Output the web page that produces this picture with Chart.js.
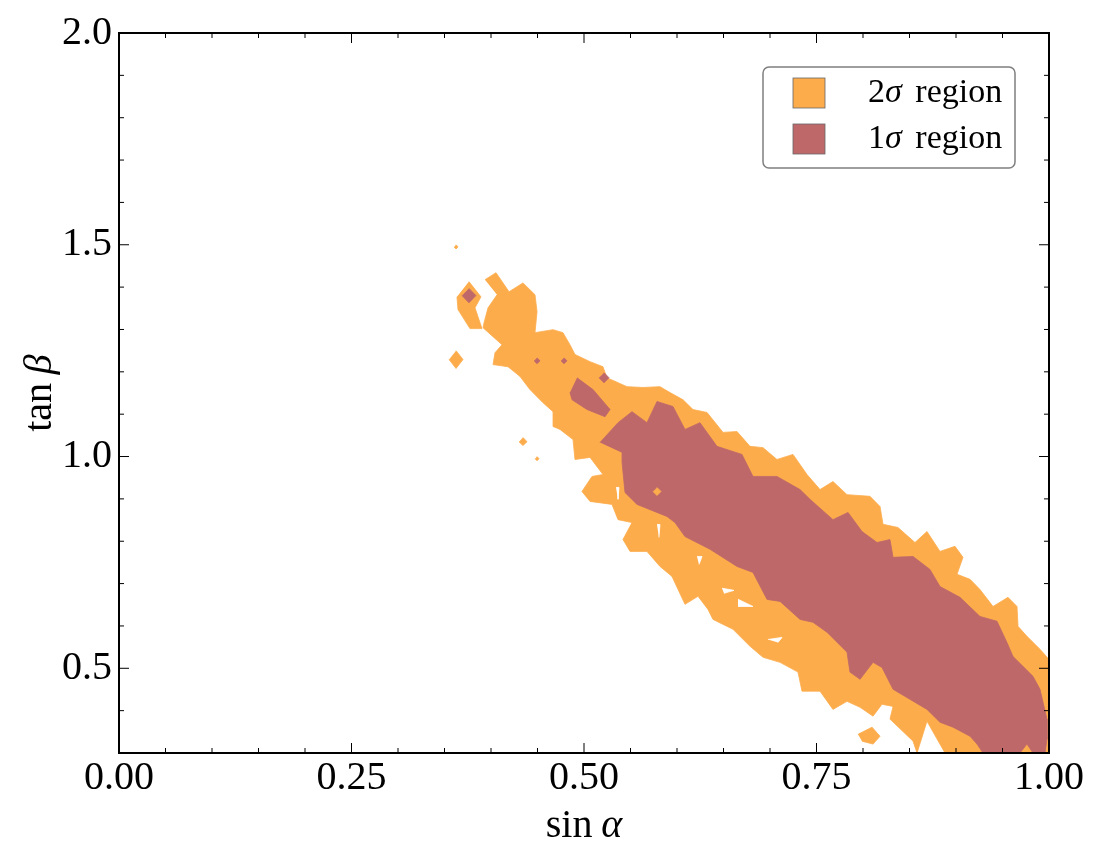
<!DOCTYPE html>
<html>
<head>
<meta charset="utf-8">
<script src="https://cdn.jsdelivr.net/npm/chart.js@4.4.1/dist/chart.umd.min.js"></script>
<style>
  html, body { margin: 0; padding: 0; background: #fff; }
</style>
</head>
<body>
<canvas id="myCanvas" width="1098" height="862"></canvas>
<script>
// axis ticks
const xMajorTicks = [0, 0.25, 0.5, 0.75, 1.0]
const xMinorTicks = [0.05, 0.1, 0.15, 0.2, 0.3, 0.35, 0.4, 0.45, 0.55, 0.6, 0.65, 0.7, 0.8, 0.85, 0.9, 0.95]
const yMajorTicks = [0.5, 1.0, 1.5, 2.0]
const yMinorTicks = [0.3, 0.4, 0.6, 0.7, 0.8, 0.9, 1.1, 1.2, 1.3, 1.4, 1.6, 1.7, 1.8, 1.9]
const xTickLabels = ["0.00", "0.25", "0.50", "0.75", "1.00"]
const yTickLabels = ["0.5", "1.0", "1.5", "2.0"]

const xTitle = "sin α"
const yTitle = "tan β"
const legendLabels = ["2σ region", "1σ region"]

// 2 sigma contour (outer, orange) : [sin alpha, tan beta]
const sigma2Main = [
  [0.3935, 1.4175], [0.4054, 1.434], [0.4194, 1.389], [0.4344, 1.410], [0.4473, 1.382],
  [0.4495, 1.342], [0.4473, 1.2925], [0.4667, 1.2995], [0.4774, 1.2925], [0.4849, 1.264],
  [0.4903, 1.241], [0.5065, 1.224], [0.5204, 1.212], [0.5247, 1.186], [0.5462, 1.165],
  [0.5634, 1.163], [0.5817, 1.165], [0.5925, 1.151], [0.6065, 1.134], [0.6172, 1.111],
  [0.6323, 1.104], [0.6495, 1.057], [0.6645, 1.059], [0.6785, 1.024], [0.6925, 1.021],
  [0.7075, 0.993], [0.7247, 1.005], [0.7398, 0.9575], [0.7538, 0.922], [0.7677, 0.941],
  [0.7828, 0.910], [0.8075, 0.906], [0.8183, 0.882], [0.8215, 0.840], [0.8376, 0.8325],
  [0.8559, 0.797], [0.8688, 0.823], [0.8828, 0.776], [0.8989, 0.788], [0.9075, 0.762],
  [0.9011, 0.722], [0.9151, 0.710], [0.9258, 0.686], [0.9398, 0.646], [0.9559, 0.6675],
  [0.9656, 0.646], [0.9667, 0.599], [0.9763, 0.5755], [0.9903, 0.545], [1.0, 0.521],
  [1.0, 0.3], [0.8882, 0.3], [0.8688, 0.375], [0.8581, 0.3], [0.8538, 0.328],
  [0.8290, 0.380], [0.8323, 0.410], [0.8204, 0.415], [0.8108, 0.387], [0.7968, 0.408],
  [0.7828, 0.422], [0.7677, 0.403], [0.7538, 0.446], [0.7344, 0.446], [0.7301, 0.491],
  [0.7108, 0.514], [0.6925, 0.526], [0.6785, 0.552], [0.6602, 0.592], [0.6387, 0.6155],
  [0.6333, 0.639], [0.6226, 0.670], [0.6086, 0.651], [0.5946, 0.717], [0.5817, 0.7405],
  [0.5677, 0.776], [0.5495, 0.776], [0.5419, 0.804], [0.5516, 0.844], [0.5366, 0.851],
  [0.5301, 0.887], [0.5065, 0.894], [0.4978, 0.9175], [0.5086, 0.953], [0.5204, 0.9575],
  [0.5065, 0.998], [0.4903, 0.993], [0.4882, 1.040], [0.4742, 1.064], [0.4667, 1.071],
  [0.4667, 1.106], [0.4559, 1.127], [0.4419, 1.158], [0.4312, 1.189], [0.4183, 1.212],
  [0.4022, 1.217], [0.4043, 1.245], [0.4118, 1.264], [0.3914, 1.304], [0.3925, 1.316],
  [0.3968, 1.351], [0.4065, 1.382]
]
const sigma2Left = [
  [0.3763, 1.413], [0.3892, 1.377], [0.3828, 1.351], [0.3903, 1.302],
  [0.3774, 1.302], [0.3645, 1.347], [0.3634, 1.377]
]
const sigma2Dot1 = [[0.3624, 1.500], [0.3645, 1.495], [0.3624, 1.490], [0.3603, 1.495]]
const sigma2Dot2 = [[0.3624, 1.250], [0.3699, 1.229], [0.3624, 1.208], [0.3549, 1.229]]
const sigma2Dot3 = [[0.4344, 1.045], [0.4387, 1.035], [0.4344, 1.026], [0.4301, 1.035]]
const sigma2Dot4 = [[0.4495, 1.000], [0.4516, 0.995], [0.4495, 0.990], [0.4474, 0.995]]
const sigma2Island = [[0.7946, 0.344], [0.8097, 0.361], [0.8183, 0.3395], [0.8108, 0.321], [0.7989, 0.328]]
const sigma2InCore = [[0.5785, 0.927], [0.5828, 0.9175], [0.5785, 0.908], [0.5742, 0.9175]]

// gaps inside the 2 sigma band
const gap1 = [[0.5785, 0.8396], [0.5817, 0.8396], [0.5806, 0.809]]
const gap2 = [[0.6215, 0.764], [0.6269, 0.764], [0.6237, 0.7453]]
const gap3 = [[0.6484, 0.689], [0.6613, 0.684], [0.6505, 0.677]]
const gap4 = [[0.6656, 0.663], [0.6817, 0.646], [0.6656, 0.646]]
const gap5 = [[0.6978, 0.568], [0.7129, 0.573], [0.7086, 0.561]]
const gap6 = [[0.5344, 0.927], [0.5376, 0.927], [0.5366, 0.899]]

// 1 sigma contour (inner, red)
const sigma1Main = [
  [0.5172, 1.033], [0.5366, 1.080], [0.5516, 1.106], [0.5677, 1.080], [0.5785, 1.130],
  [0.5957, 1.118], [0.6086, 1.064], [0.6247, 1.080], [0.6430, 1.024], [0.6699, 1.005],
  [0.6817, 0.953], [0.7075, 0.953], [0.7323, 0.922], [0.7430, 0.899], [0.7677, 0.851],
  [0.7839, 0.868], [0.7989, 0.823], [0.8151, 0.797], [0.8290, 0.804], [0.8323, 0.762],
  [0.8538, 0.764], [0.8720, 0.7335], [0.8828, 0.693], [0.9043, 0.6675], [0.9258, 0.6225],
  [0.9441, 0.611], [0.9548, 0.561], [0.9613, 0.528], [0.9828, 0.481], [0.9903, 0.4505],
  [0.9978, 0.380], [0.9978, 0.3325], [0.9957, 0.3], [0.9828, 0.3], [0.9763, 0.321],
  [0.9688, 0.3], [0.9290, 0.3], [0.9226, 0.321], [0.9151, 0.3395], [0.8968, 0.361],
  [0.8828, 0.3725], [0.8688, 0.403], [0.8323, 0.4505], [0.8204, 0.502], [0.8108, 0.514],
  [0.7968, 0.474], [0.7860, 0.491], [0.7828, 0.538], [0.7613, 0.585], [0.7462, 0.6085],
  [0.7323, 0.6155], [0.7108, 0.658], [0.6968, 0.6627], [0.6817, 0.7264], [0.6645, 0.7405],
  [0.6355, 0.781], [0.6086, 0.811], [0.5978, 0.844], [0.5892, 0.8585], [0.5570, 0.887],
  [0.5441, 0.915], [0.5409, 0.986], [0.5409, 1.009]
]
const sigma1Small = [
  [0.4925, 1.186], [0.5097, 1.158], [0.5280, 1.111], [0.5226, 1.094],
  [0.5032, 1.111], [0.4871, 1.134], [0.4849, 1.151]
]
const sigma1Dot1 = [[0.3763, 1.397], [0.3838, 1.380], [0.3763, 1.363], [0.3688, 1.380]]
const sigma1Dot2 = [[0.4495, 1.233], [0.4527, 1.226], [0.4495, 1.219], [0.4463, 1.226]]
const sigma1Dot3 = [[0.4785, 1.233], [0.4817, 1.226], [0.4785, 1.219], [0.4753, 1.226]]
const sigma1Dot4 = [[0.5215, 1.198], [0.5269, 1.186], [0.5215, 1.174], [0.5161, 1.186]]

const orange = "#fdac4c"
const red = "#be686a"
const fontFamily = "'Liberation Serif', 'DejaVu Serif', serif"

function shape(points, color, order) {
  return {
    data: points.map(p => ({ x: p[0], y: p[1] })),
    showLine: true,
    fill: "shape",
    backgroundColor: color,
    borderColor: color,
    borderWidth: 0.8,
    pointRadius: 0,
    tension: 0,
    order: order,
  }
}

const datasets = [
  shape(sigma2Main, orange, 6),
  shape(sigma2Left, orange, 6),
  shape(sigma2Dot1, orange, 6),
  shape(sigma2Dot2, orange, 6),
  shape(sigma2Dot3, orange, 6),
  shape(sigma2Dot4, orange, 6),
  shape(sigma2Island, orange, 6),
  ...[gap1, gap2, gap3, gap4, gap5, gap6].map(g => shape(g, "#ffffff", 5)),
  shape(sigma1Main, red, 4),
  shape(sigma1Small, red, 4),
  shape(sigma1Dot1, red, 4),
  shape(sigma1Dot2, red, 4),
  shape(sigma1Dot3, red, 4),
  shape(sigma1Dot4, red, 4),
  shape(sigma2InCore, orange, 3),
]

// draws text with greek letters in italic (math style)
function drawMath(ctx, text, x, y, size, align, space) {
  const parts = []
  for (const ch of text) {
    const greek = /[\u0370-\u03ff]/.test(ch)
    const font = (greek ? "italic " : "") + size + "px " + fontFamily
    ctx.font = font
    const w = ch === " " ? size * space : ctx.measureText(ch).width
    parts.push({ ch, font, w })
  }
  const total = parts.reduce((s, p) => s + p.w, 0)
  let cx = align === "center" ? x - total / 2 : align === "right" ? x - total : x
  ctx.textAlign = "left"
  ctx.textBaseline = "middle"
  for (const p of parts) {
    if (p.ch !== " ") {
      ctx.font = p.font
      ctx.fillText(p.ch, cx, y)
    }
    cx += p.w
  }
}

const framePlugin = {
  id: "frame",
  afterDatasetsDraw(chart) {
    const { ctx, chartArea: a, scales } = chart
    ctx.save()
    ctx.strokeStyle = "#000"
    ctx.lineWidth = 1
    const tick = (vals, len) => {
      for (const v of vals) {
        const px = scales.x.getPixelForValue(v)
        ctx.beginPath()
        ctx.moveTo(px, a.bottom); ctx.lineTo(px, a.bottom - len)
        ctx.moveTo(px, a.top); ctx.lineTo(px, a.top + len)
        ctx.stroke()
      }
    }
    const ytick = (vals, len) => {
      for (const v of vals) {
        const py = scales.y.getPixelForValue(v)
        ctx.beginPath()
        ctx.moveTo(a.left, py); ctx.lineTo(a.left + len, py)
        ctx.moveTo(a.right, py); ctx.lineTo(a.right - len, py)
        ctx.stroke()
      }
    }
    tick(xMajorTicks, 10)
    tick(xMinorTicks, 5)
    ytick(yMajorTicks, 10)
    ytick(yMinorTicks, 5)
    ctx.lineWidth = 2
    ctx.strokeRect(a.left, a.top, a.right - a.left, a.bottom - a.top)
    ctx.restore()
  },
  afterDraw(chart) {
    const { ctx, chartArea: a } = chart
    ctx.save()
    ctx.fillStyle = "#000"
    drawMath(ctx, xTitle, (a.left + a.right) / 2, 826, 40, "center", 0.22)
    ctx.translate(40, (a.top + a.bottom) / 2)
    ctx.rotate(-Math.PI / 2)
    drawMath(ctx, yTitle, 0, 0, 40, "center", 0.22)
    ctx.restore()

    // legend
    ctx.save()
    const bx = 763, by = 67, bw = 252, bh = 101, r = 6
    ctx.beginPath()
    ctx.roundRect(bx, by, bw, bh, r)
    ctx.fillStyle = "rgba(255,255,255,0.8)"
    ctx.fill()
    ctx.strokeStyle = "#7f7f7f"
    ctx.lineWidth = 1.5
    ctx.stroke()
    const colors = [orange, red]
    legendLabels.forEach((label, i) => {
      const y = 93 + i * 46
      ctx.fillStyle = colors[i]
      ctx.fillRect(793, y - 15, 32, 30)
      ctx.strokeStyle = "#666"
      ctx.lineWidth = 0.8
      ctx.strokeRect(793, y - 15, 32, 30)
      ctx.fillStyle = "#000"
      drawMath(ctx, label, 868, y, 34, "left", 0.4)
    })
    ctx.restore()
  },
}

const ctx = document.getElementById("myCanvas").getContext("2d")
new Chart(ctx, {
  type: "scatter",
  data: { datasets },
  options: {
    responsive: false,
    animation: false,
    devicePixelRatio: 1,
    layout: { padding: { top: 33, right: 49, left: 0, bottom: 0 } },
    plugins: { legend: { display: false }, tooltip: { enabled: false } },
    scales: {
      x: {
        type: "linear",
        min: 0,
        max: 1,
        grid: { display: false, tickLength: 0 },
        border: { display: false },
        afterBuildTicks: s => { s.ticks = xMajorTicks.map(v => ({ value: v })) },
        afterFit: s => { s.height = 109 },
        ticks: {
          autoSkip: false,
          maxRotation: 0,
          padding: 1,
          color: "#000",
          font: { family: fontFamily, size: 40 },
          callback: (v, i) => xTickLabels[i],
        },
      },
      y: {
        type: "linear",
        min: 0.3,
        max: 2.0,
        grid: { display: false, tickLength: 0 },
        border: { display: false },
        afterBuildTicks: s => { s.ticks = yMajorTicks.map(v => ({ value: v })) },
        afterFit: s => { s.width = 119 },
        ticks: {
          autoSkip: false,
          padding: 7,
          color: "#000",
          font: { family: fontFamily, size: 40 },
          callback: (v, i) => yTickLabels[i],
        },
      },
    },
  },
  plugins: [framePlugin],
})
</script>
</body>
</html>
